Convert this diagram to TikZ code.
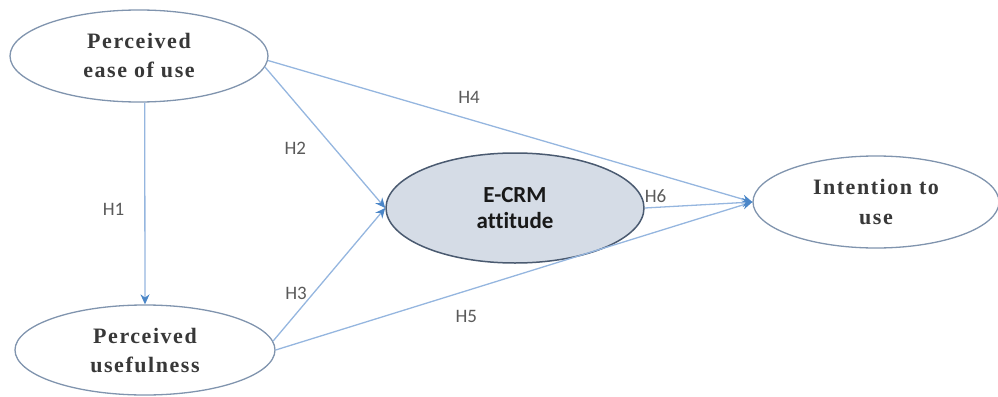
\documentclass[tikz,border=0pt]{standalone}
\usepackage{fontspec}
\setmainfont{Liberation Serif}
\newfontfamily\calibrifont[Ligatures=NoCommon]{Carlito}
\newfontfamily\ovalfont[LetterSpace=7]{Liberation Serif}
\usetikzlibrary{arrows.meta,shapes.geometric}
\definecolor{linkblue}{HTML}{95B6DF}
\definecolor{tipblue}{HTML}{4A86C8}
\definecolor{ovalgray}{HTML}{8094AE}
\definecolor{ecrmfill}{HTML}{D5DCE6}
\definecolor{ecrmline}{HTML}{4A5A70}
\definecolor{labelgray}{HTML}{5A5A5A}
\tikzset{
  construct/.style={
    ellipse,
    draw=ovalgray,
    line width=1.3pt,
    fill=white,
    inner sep=0pt,
    align=center,
    text=black!78,
    font=\ovalfont\bfseries\fontsize{22}{29}\selectfont
  },
  mediator/.style={
    ellipse,
    draw=ecrmline,
    line width=1.5pt,
    fill=ecrmfill,
    inner sep=0pt,
    align=center,
    text=black!90,
    font=\calibrifont\bfseries\fontsize{23}{26}\selectfont
  },
  link/.style={
    -{Stealth[length=10pt,width=9pt,color=tipblue]},
    line width=1.3pt,
    draw=linkblue
  },
  hyp/.style={
    inner sep=0pt,
    text=labelgray,
    font=\calibrifont\fontsize{19}{21}\selectfont
  }
}
\begin{document}
\begin{tikzpicture}[x=1pt,y=-1pt]
\useasboundingbox (0,0) rectangle (998,396);
\node[construct, minimum width=258pt, minimum height=92pt] (peou) at (139,56) {Perceived\\ease of use};
\node[construct, minimum width=260pt, minimum height=90pt] (useful) at (145,350) {Perceived\\usefulness};
\node[mediator, minimum width=258pt, minimum height=110pt] (ecrm) at (515,208) {E-CRM\\attitude};
\node[construct, minimum width=246pt, minimum height=92pt] (intent) at (876,202) {Intention to\\use};
\draw[link] (peou.-83) -- node[hyp, pos=.53, left=20pt] {H1} (useful.north);
\draw[link] (peou.-5) -- node[hyp, pos=.58, left=28pt] {H2} (ecrm.west);
\draw[link] (useful.4) -- node[hyp, pos=.36, left=6pt] {H3} (ecrm.west);
\draw[link] (peou.-2) -- node[hyp, pos=.415, above=15pt] {H4} (intent.west);
\draw[link] (useful.east) -- node[hyp, pos=.4, below=19pt] {H5} (intent.west);
\draw[link] (ecrm.east) -- node[hyp, pos=.1, above=4pt] {H6} (intent.west);
\end{tikzpicture}
\end{document}
